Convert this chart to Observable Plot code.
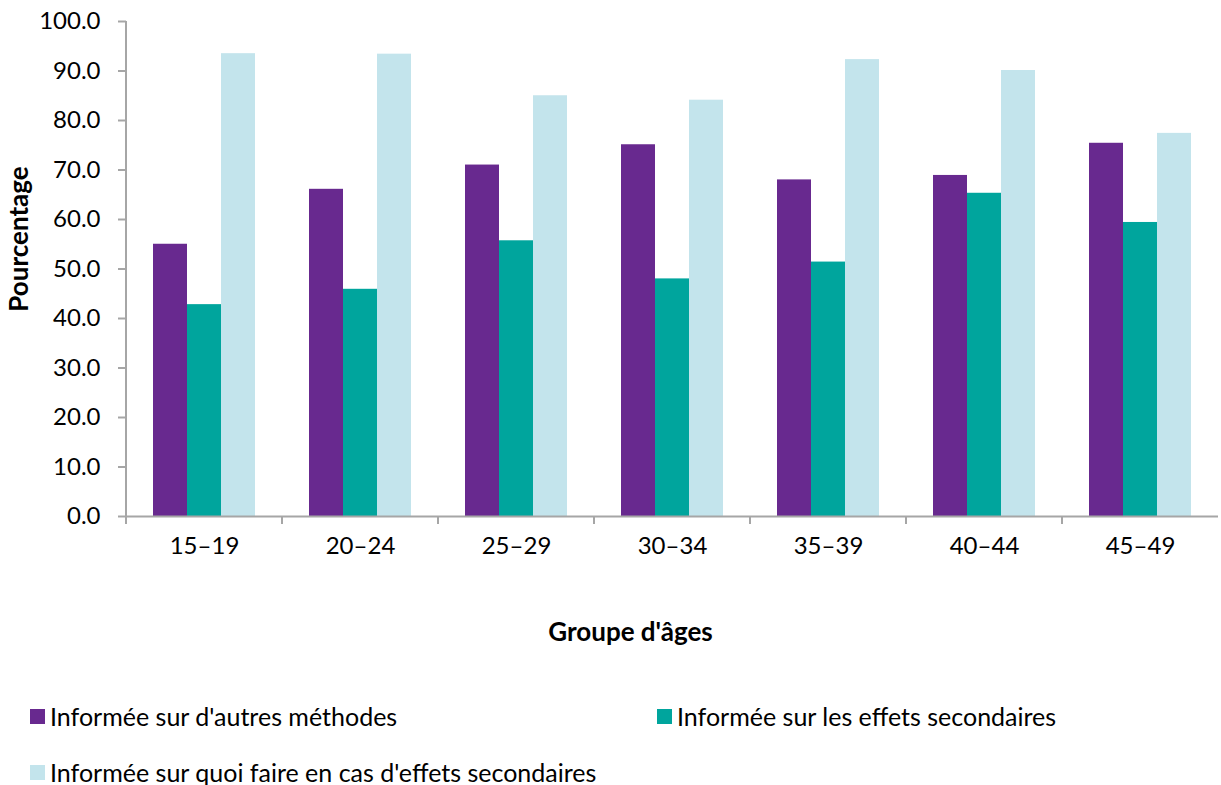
<!DOCTYPE html>
<html><head><meta charset="utf-8">
<script src="https://cdn.jsdelivr.net/npm/d3@7"></script>
<script src="https://cdn.jsdelivr.net/npm/@observablehq/plot@0.6"></script>
<style>
body{margin:0;background:#fff;font-family:Lato,sans-serif;color:#000;}
#chart svg{display:block;}
#legend{display:grid;grid-template-columns:627px auto;row-gap:28px;margin-left:30px;margin-top:52px;font-size:25px;line-height:28px;}
.item{display:flex;align-items:center;white-space:nowrap;}
.sw{width:15px;height:15px;margin-right:5px;flex:none;}
</style></head><body>
<div id="chart"></div>
<div id="legend"></div>
<script>
const ageGroups = ["15–19","20–24","25–29","30–34","35–39","40–44","45–49"];
const seriesNames = ["Informée sur d'autres méthodes","Informée sur les effets secondaires","Informée sur quoi faire en cas d'effets secondaires"];
const autresMethodes = [55.0,66.1,71.0,75.1,68.0,68.9,75.4];
const effetsSecondaires = [42.8,45.9,55.7,48.0,51.4,65.3,59.4];
const quoiFaire = [93.5,93.4,85.0,84.1,92.3,90.1,77.4];
const seriesColors = ["#68298F","#00A59D","#C3E4EC"];
const yTicks = [0,10,20,30,40,50,60,70,80,90,100];
const yLabel = "Pourcentage";
const xLabel = "Groupe d'âges";

const seriesValues = [autresMethodes, effetsSecondaires, quoiFaire];
const data = ageGroups.flatMap((g,i)=>seriesValues.map((arr,j)=>({group:g, series:seriesNames[j], value:arr[i]})));

const axisGray = "#a6a6a6";
const chart = Plot.plot({
  width:1221, height:650,
  marginTop:21, marginLeft:126, marginRight:3, marginBottom:134,
  style:{fontFamily:"Lato, sans-serif", fontSize:"24px", color:"#000", background:"#fff"},
  fx:{domain:ageGroups, padding:0},
  x:{domain:seriesNames, paddingInner:0, paddingOuter:0.73, axis:null},
  y:{domain:[0,100]},
  color:{domain:seriesNames, range:seriesColors},
  marks:[
    Plot.barY(data,{fx:"group", x:"series", y:"value", fill:"series", inset:0}),
    Plot.ruleY([0],{stroke:axisGray, strokeWidth:2}),
    Plot.axisY({ticks:yTicks, tickFormat:d=>d.toFixed(1), tickSize:8, tickPadding:18, stroke:axisGray, strokeWidth:2, strokeOpacity:1, label:yLabel, labelArrow:"none", labelAnchor:"center", labelOffset:117}),
    Plot.axisFx({anchor:"bottom", tickSize:0, tickPadding:20, label:xLabel, labelArrow:"none", labelAnchor:"center", labelOffset:124})
  ]
});
document.getElementById("chart").appendChild(chart);

// axis line and band-boundary ticks from the library's scales
const fx = chart.scale("fx"), y = chart.scale("y");
const svg = d3.select(chart);
const y0 = y.apply(0), yTop = y.apply(100);
const left = fx.apply(ageGroups[0]);
svg.append("line").attr("x1",left).attr("x2",left).attr("y1",yTop).attr("y2",y0).attr("stroke",axisGray).attr("stroke-width",2);
ageGroups.forEach(g=>{
  const xb = fx.apply(g);
  svg.append("line").attr("x1",xb).attr("x2",xb).attr("y1",y0).attr("y2",y0+8).attr("stroke",axisGray).attr("stroke-width",2);
});
svg.selectAll('g[aria-label="y-axis label"] text, g[aria-label="fx-axis label"] text').attr("font-weight","bold").attr("font-size","26px");
const shift = (sel, dx, dy) => sel.each(function(){ const g = d3.select(this); g.attr("transform", (g.attr("transform")||"") + ` translate(${dx},${dy})`); });
shift(svg.selectAll('g[aria-label="y-axis label"]'), 0, -30);
shift(svg.selectAll('g[aria-label="fx-axis label"]'), -42, 0);

// legend
const legend = d3.select("#legend");
seriesNames.forEach((s,i)=>{
  const it = legend.append("div").attr("class","item");
  it.append("span").attr("class","sw").style("background",seriesColors[i]);
  it.append("span").text(s);
});
</script>
</body></html>
